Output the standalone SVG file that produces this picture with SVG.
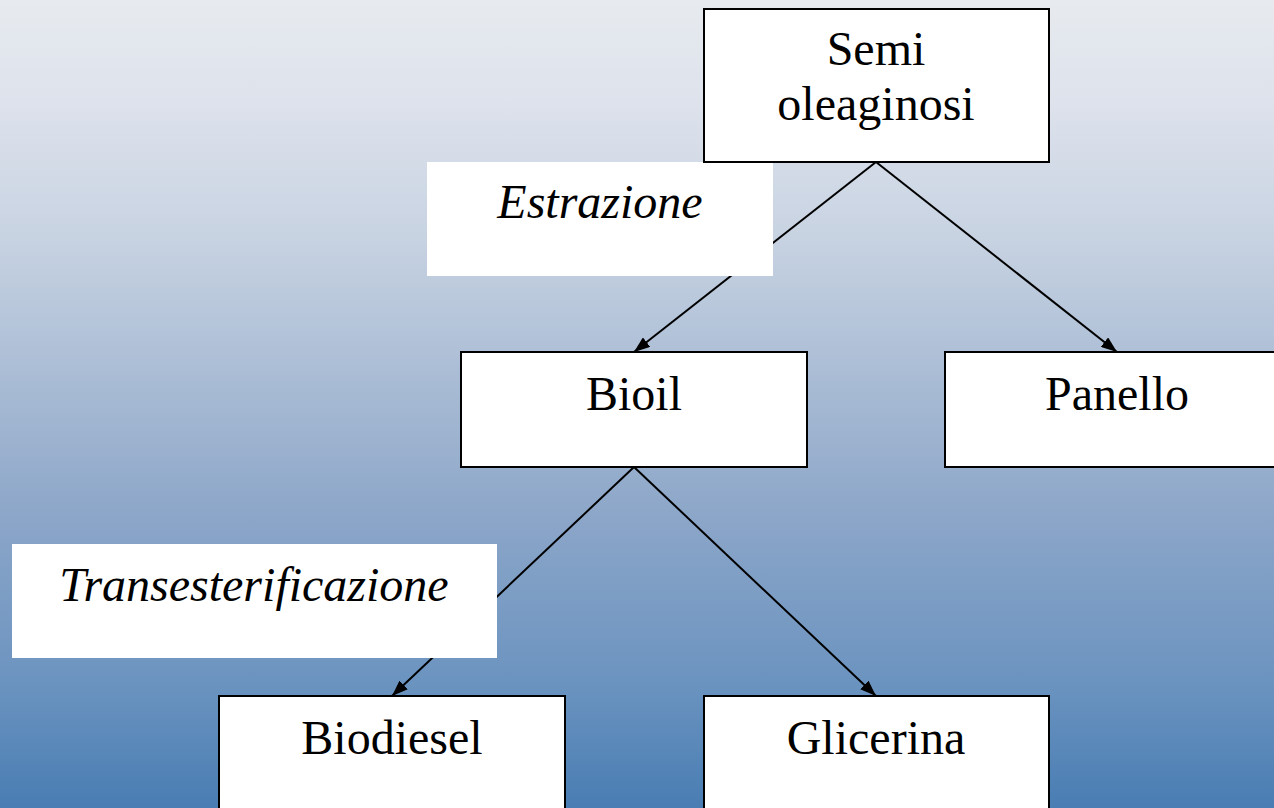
<svg xmlns="http://www.w3.org/2000/svg" width="1274" height="808" viewBox="0 0 1274 808">
  <defs>
    <linearGradient id="bg" x1="0" y1="0" x2="0" y2="1">
      <stop offset="0" stop-color="#e7ebef"/>
      <stop offset="0.13" stop-color="#dde2ec"/>
      <stop offset="0.29" stop-color="#c8d3e2"/>
      <stop offset="0.53" stop-color="#9fb4d0"/>
      <stop offset="0.65" stop-color="#8aa5c8"/>
      <stop offset="0.84" stop-color="#6c94c0"/>
      <stop offset="1" stop-color="#497db3"/>
    </linearGradient>
    <marker id="arrow" viewBox="0 0 16 12" refX="16" refY="6" markerWidth="16" markerHeight="12" markerUnits="userSpaceOnUse" orient="auto">
      <path d="M0,0 L16,6 L0,12 Z" fill="#000"/>
    </marker>
    <style>
      .box { fill: #ffffff; stroke: #000000; stroke-width: 2; }
      .label { fill: #ffffff; stroke: none; }
      .t { font-family: "Liberation Serif", "Times New Roman", serif; font-size: 48px; fill: #000; text-anchor: middle; }
      .i { font-style: italic; }
      .edge { stroke: #000; stroke-width: 2; fill: none; marker-end: url(#arrow); }
    </style>
  </defs>
  <rect x="0" y="0" width="1274" height="808" fill="url(#bg)"/>

  <g id="connectors">
    <line class="edge" x1="876" y1="162" x2="634" y2="352"/>
    <line class="edge" x1="876" y1="162" x2="1117" y2="352"/>
    <line class="edge" x1="634" y1="467" x2="392" y2="696"/>
    <line class="edge" x1="634" y1="467" x2="876" y2="696"/>
  </g>

  <g id="label-estrazione">
    <rect class="label" x="427" y="162" width="346" height="114"/>
    <text class="t i" x="600" y="218">Estrazione</text>
  </g>
  <g id="label-transesterificazione">
    <rect class="label" x="12" y="544" width="485" height="114"/>
    <text class="t i" x="254" y="601">Transesterificazione</text>
  </g>

  <g id="node-semi">
    <rect class="box" x="704" y="9" width="345" height="153"/>
    <text class="t" x="876" y="65">Semi</text>
    <text class="t" x="876" y="120">oleaginosi</text>
  </g>
  <g id="node-bioil">
    <rect class="box" x="461" y="352" width="346" height="115"/>
    <text class="t" x="634" y="410">Bioil</text>
  </g>
  <g id="node-panello">
    <rect class="box" x="945" y="352" width="345" height="115"/>
    <text class="t" x="1117" y="410">Panello</text>
  </g>
  <g id="node-biodiesel">
    <rect class="box" x="219" y="696" width="346" height="130"/>
    <text class="t" x="392" y="754">Biodiesel</text>
  </g>
  <g id="node-glicerina">
    <rect class="box" x="704" y="696" width="345" height="130"/>
    <text class="t" x="876" y="754">Glicerina</text>
  </g>
</svg>
